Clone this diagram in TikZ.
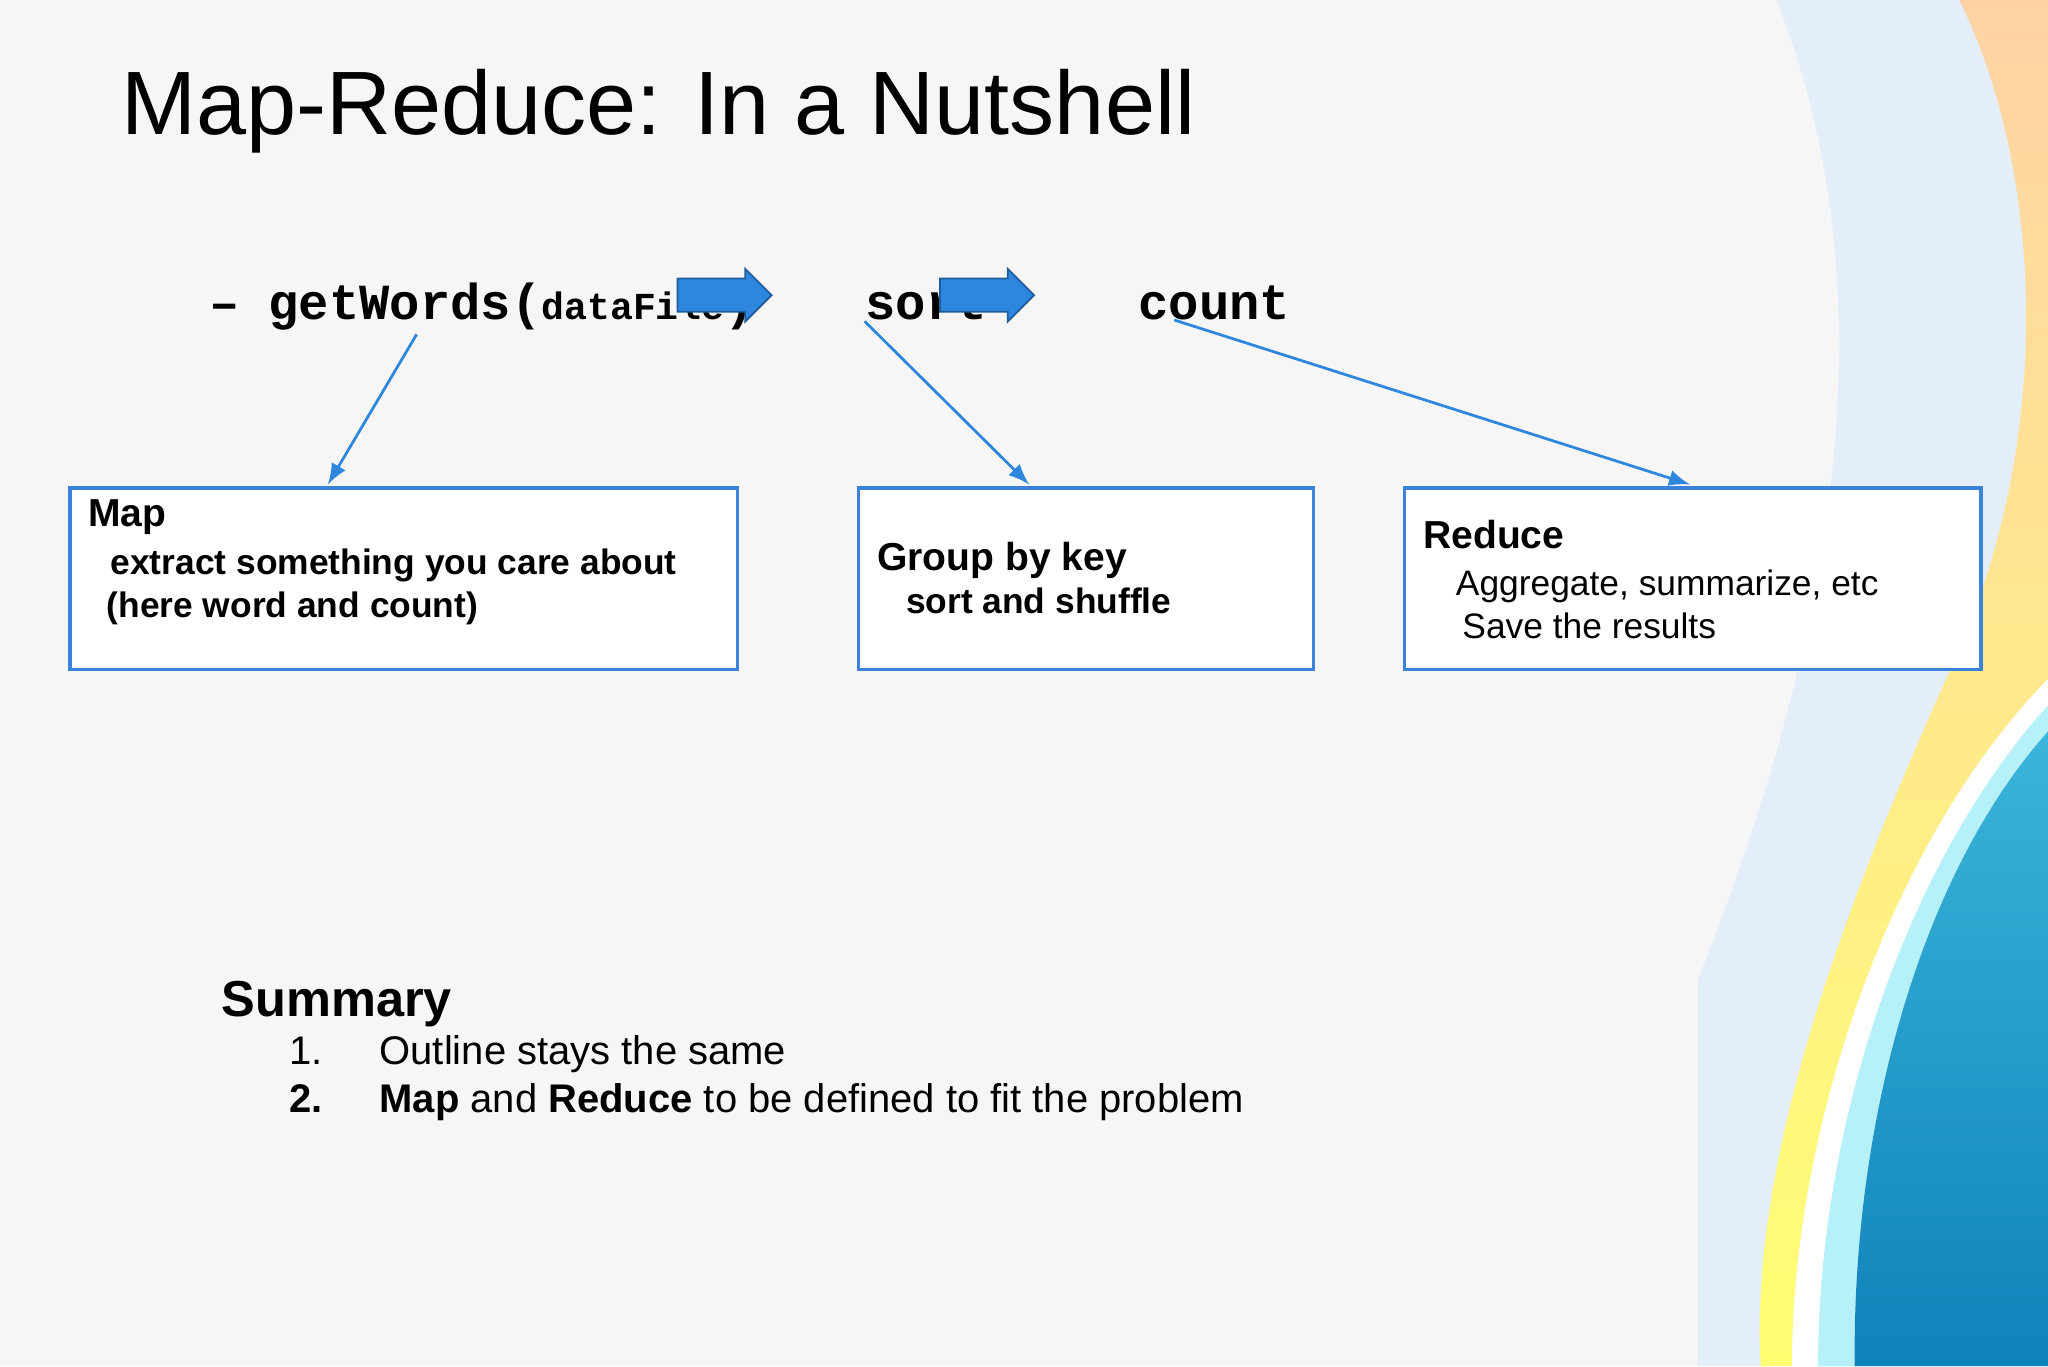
\documentclass[tikz,border=0pt]{standalone}
\usepackage{fontspec}
\setmainfont{Liberation Sans}
\setmonofont{Liberation Mono}
\usepackage{tikz}
\usetikzlibrary{shapes,arrows,calc,positioning,backgrounds}
\definecolor{boxblue}{HTML}{3A83D8}
\definecolor{arrblue}{HTML}{2E86DE}
\definecolor{slidebg}{HTML}{F6F6F6}
\definecolor{haze}{HTML}{E4EEF8}
\definecolor{seatop}{HTML}{3BB5DA}
\definecolor{seabot}{HTML}{0F82BA}

\begin{document}
\begin{tikzpicture}[x=0.01cm, y=-0.01cm]
\tikzstyle{stepbox}=[draw=boxblue, thick, fill=white, minimum height=1.39cm, inner sep=0pt, anchor=north west]
\tikzstyle{txt}=[inner sep=0pt, anchor=base west, font=\fontsize{7.7}{9}\selectfont]
\tikzstyle{code}=[inner sep=0pt, anchor=base west, font=\ttfamily\bfseries\fontsize{11}{13}\selectfont]
\tikzstyle{link}=[-latex, draw=arrblue, semithick]
\tikzstyle{fat}=[single arrow, draw=arrblue!70!black, fill=arrblue, minimum height=0.72cm, minimum width=0.39cm, single arrow head extend=0.075cm, inner sep=0pt, text height=0.24cm, anchor=west]

% background and waves
\fill [slidebg] (0,0) rectangle (1568,1046);
\useasboundingbox (0,0) rectangle (1568,1046);
\fill [haze] (1360,0) .. controls (1440,200) and (1420,450) .. (1300,750) -- (1300,1046) -- (1568,1046) -- (1568,0) -- cycle;
\shade [top color=orange!35, bottom color=yellow!55] (1500,0) .. controls (1560,120) and (1580,330) .. (1490,520) .. controls (1400,720) and (1340,900) .. (1348,1046) -- (1372,1046) .. controls (1372,860) and (1450,640) .. (1568,520) -- (1568,0) -- cycle;
\fill [white] (1372,1046) .. controls (1372,860) and (1450,640) .. (1568,520) -- (1568,540) .. controls (1460,660) and (1392,860) .. (1392,1046) -- cycle;
\fill [haze!80!cyan] (1392,1046) .. controls (1392,860) and (1460,660) .. (1568,540) -- (1568,560) .. controls (1470,670) and (1418,860) .. (1420,1046) -- cycle;
\shade [top color=seatop, bottom color=seabot] (1568,560) .. controls (1470,670) and (1418,860) .. (1420,1046) -- (1568,1046) -- cycle;

% title
\node (title) [txt, font=\fontsize{19.6}{24}\selectfont] at (92,103) {Map-Reduce: In a Nutshell};

% code line
\node (dash) [code] at (160,245) {–};
\node (getw) [code] at (205,245) {getWords({\fontsize{8.3}{10}\selectfont dataFile})};
\node (sortw) [code] at (662,245) {sort};
\node (countw) [code] at (871,245) {count};
\node (fat1) [fat] at (518,226) {};
\node (fat2) [fat] at (719,226) {};

% boxes
\node (map) [stepbox, minimum width=5.11cm] at (52,372) {};
\node (group) [stepbox, minimum width=3.48cm] at (656,372) {};
\node (reduce) [stepbox, minimum width=4.41cm] at (1074,372) {};

\node (maph) [txt, font=\bfseries\fontsize{8.5}{10}\selectfont] at (67,403) {Map};
\node (map1) [txt, font=\bfseries\fontsize{7.7}{9}\selectfont] at (84,440) {extract something you care about};
\node (map2) [txt, font=\bfseries\fontsize{7.7}{9}\selectfont] at (81,473) {(here word and count)};
\node (grouph) [txt, font=\bfseries\fontsize{8.5}{10}\selectfont] at (671,437) {Group by key};
\node (group1) [txt, font=\bfseries\fontsize{7.7}{9}\selectfont] at (693,470) {sort and shuffle};
\node (reduceh) [txt, font=\bfseries\fontsize{8.5}{10}\selectfont] at (1089,420) {Reduce};
\node (reduce1) [txt] at (1114,456) {Aggregate, summarize, etc};
\node (reduce2) [txt] at (1119,489) {Save the results};

% links
\coordinate (g0) at (319,256);
\coordinate (s0) at (662,246);
\coordinate (c0) at (899,245);
\draw [link] (g0) -- (251,371) coordinate (g1);
\draw [link] (s0) -- (788,371) coordinate (s1);
\draw [link] (c0) -- (1294,371) coordinate (c1);

% summary
\node (summ) [txt, font=\bfseries\fontsize{11}{13}\selectfont] at (169,778) {Summary};
\node (n1) [txt, font=\fontsize{8.7}{10}\selectfont] at (221,815) {1.};
\node (l1) [txt, font=\fontsize{8.7}{10}\selectfont] at (290,815) {Outline stays the same};
\node (n2) [txt, font=\bfseries\fontsize{8.7}{10}\selectfont] at (221,852) {2.};
\node (l2) [txt, font=\fontsize{8.7}{10}\selectfont] at (290,852) {\textbf{Map} and \textbf{Reduce} to be defined to fit the problem};

\end{tikzpicture}
\end{document}
